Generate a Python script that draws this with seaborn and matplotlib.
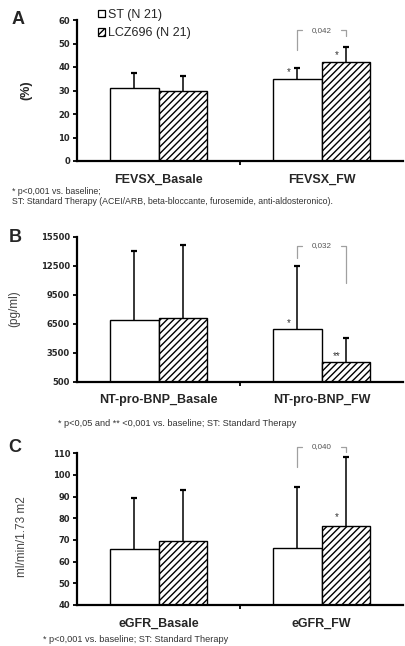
import numpy as np
import pandas as pd
import matplotlib
matplotlib.use("Agg")
import matplotlib.pyplot as plt
import seaborn as sns
from matplotlib.patches import Patch

sns.set_theme(style="white")
plt.rcParams["font.family"] = ["Liberation Sans", "DejaVu Sans"]
plt.rcParams["hatch.linewidth"] = 1.0

# ---------------- data ----------------
groups = ["ST (N 21)", "LCZ696 (N 21)"]

cats_A = ["FEVSX_Basale", "FEVSX_FW"]
st_mean_A = [31.0, 35.0]
st_sd_A = [6.5, 4.5]
lcz_mean_A = [30.0, 42.0]
lcz_sd_A = [6.0, 6.3]
yticks_A = [0, 10, 20, 30, 40, 50, 60]

cats_B = ["NT-pro-BNP_Basale", "NT-pro-BNP_FW"]
st_mean_B = [6900, 5950]
st_sd_B = [7100, 6550]
lcz_mean_B = [7100, 2500]
lcz_sd_B = [7600, 2550]
yticks_B = [500, 3500, 6500, 9500, 12500, 15500]

cats_C = ["eGFR_Basale", "eGFR_FW"]
st_mean_C = [65.8, 66.5]
st_sd_C = [23.4, 28.1]
lcz_mean_C = [69.6, 76.5]
lcz_sd_C = [23.5, 31.8]
yticks_C = [40, 50, 60, 70, 80, 90, 100, 110]

# significance annotations: p-value text, bracket top, left leg end, right leg end
pval_A, brk_A = "0,042", (55.7, 47.2, 53.2)
pval_B, brk_B = "0,032", (14600, 13300, 10700)
pval_C, brk_C = "0,040", (113.0, 103.8, 110.7)
# stars: (group index, label, y)
stars_A = [(0, "*", 37.9), (1, "*", 45.1)]
stars_B = [(0, "*", 6600), (1, "**", 3150)]
stars_C = [(1, "*", 80.6)]

foot_A = ["* p<0,001 vs. baseline;",
          "ST: Standard Therapy (ACEI/ARB, beta-bloccante, furosemide, anti-aldosteronico)."]
foot_B = "* p<0,05 and ** <0,001 vs. baseline; ST: Standard Therapy"
foot_C = "* p<0,001 vs. baseline; ST: Standard Therapy"

W, H = 405, 646
fig = plt.figure(figsize=(W / 100, H / 100), dpi=100)


def px_axes(left, top, right, bottom):
    return fig.add_axes([left / W, 1 - bottom / H, (right - left) / W, (bottom - top) / H])


def panel(ax, cats, st_mean, st_sd, lcz_mean, lcz_sd, yticks, pval, brk, stars):
    df = pd.DataFrame({
        "cat": cats + cats,
        "group": [groups[0]] * len(cats) + [groups[1]] * len(cats),
        "val": list(st_mean) + list(lcz_mean),
    })
    sns.barplot(data=df, x="cat", y="val", hue="group", order=cats, hue_order=groups,
                palette=["white", "white"], saturation=1, edgecolor="black",
                linewidth=1.0, width=0.59, errorbar=None, legend=False, ax=ax)
    centers = []
    for cont, means, sds in zip(ax.containers, [st_mean, lcz_mean], [st_sd, lcz_sd]):
        xs = [b.get_x() + b.get_width() / 2 for b in cont]
        centers.append(xs)
        eb = ax.errorbar(xs, means, yerr=[np.zeros(len(sds)), sds], fmt="none",
                         ecolor="black", elinewidth=1.1, capsize=2, capthick=1.6, zorder=5)
        caps = eb.lines[1]
        if len(caps) > 1:
            caps[0].set_visible(False)
    for b in ax.containers[1]:
        b.set_hatch("/////")
    ax.set_xlim(-0.5, 1.5)
    ax.set_ylim(yticks[0], yticks[-1])
    ax.set_yticks(yticks)
    ax.set_xlabel("")
    ax.set_ylabel("")
    sns.despine(ax=ax)
    for s in ["left", "bottom"]:
        ax.spines[s].set_linewidth(1.6)
        ax.spines[s].set_color("black")
    ax.tick_params(axis="y", direction="out", length=3, width=1.3, pad=2, left=True,
                   color="black")
    for t in ax.get_yticklabels():
        t.set_fontfamily("DejaVu Sans")
        t.set_fontweight("bold")
        t.set_fontsize(6)
    ax.set_xticks([0, 1])
    ax.set_xticklabels(cats, fontsize=9, fontweight="bold")
    ax.tick_params(axis="x", length=0, pad=9)
    ax.set_xticks([0.5], minor=True)
    ax.tick_params(axis="x", which="minor", direction="out", length=3, width=1.3,
                   bottom=True, color="black")
    # bracket
    xl, xr = centers[0][1], centers[1][1]
    top, yl, yr = brk
    stub = 0.03
    kw = dict(color="#a0a0a0", lw=0.9, clip_on=False)
    ax.plot([xl, xl, xl + stub], [yl, top, top], **kw)
    ax.plot([xr - stub, xr, xr], [top, top, yr], **kw)
    ax.text((xl + xr) / 2, top, pval, ha="center", va="center", fontsize=5.8,
            color="#555555", clip_on=False)
    for gi, lab, y in stars:
        ax.text(centers[gi][1] - 0.055, y, lab, ha="center", va="center",
                fontsize=7, color="#333333")
    return ax


axA = px_axes(77, 20, 403, 161)
panel(axA, cats_A, st_mean_A, st_sd_A, lcz_mean_A, lcz_sd_A, yticks_A, pval_A, brk_A, stars_A)
axB = px_axes(77, 237, 403, 381.7)
panel(axB, cats_B, st_mean_B, st_sd_B, lcz_mean_B, lcz_sd_B, yticks_B, pval_B, brk_B, stars_B)
axC = px_axes(77, 453.3, 403, 605)
panel(axC, cats_C, st_mean_C, st_sd_C, lcz_mean_C, lcz_sd_C, yticks_C, pval_C, brk_C, stars_C)

# legend
handles = [Patch(facecolor="white", edgecolor="black", linewidth=0.9, label=groups[0]),
           Patch(facecolor="white", edgecolor="black", linewidth=0.9, hatch="/////",
                 label=groups[1])]
fig.legend(handles=handles, loc="upper left", bbox_to_anchor=(98 / W, 1 - 9 / H),
           frameon=False, fontsize=9, handlelength=0.55, handleheight=0.55,
           handletextpad=0.25, labelspacing=0.5, borderpad=0, borderaxespad=0)


def ftext(x, y, s, **kw):
    fig.text(x / W, 1 - y / H, s, **kw)


# panel letters
ftext(18, 19, "A", fontsize=13, fontweight="bold", ha="center", va="center")
ftext(15, 237, "B", fontsize=13, fontweight="bold", ha="center", va="center")
ftext(15, 447, "C", fontsize=13, fontweight="bold", ha="center", va="center")

# y labels
ftext(26, 90, "(%)", fontsize=9, fontweight="bold", rotation=90, ha="center", va="center")
ftext(14, 309, "(pg/ml)", fontsize=8.5, color="#444444", rotation=90, ha="center", va="center")
ftext(22, 537, "ml/min/1.73 m2", fontsize=8.5, color="#444444", rotation=90,
      ha="center", va="center")

# footnotes
ftext(12, 191, foot_A[0], fontsize=6.3, color="#333333", va="center")
ftext(12, 201, foot_A[1], fontsize=6.3, color="#333333", va="center")
ftext(58, 424, foot_B, fontsize=6.6, color="#333333", va="center")
ftext(43, 639, foot_C, fontsize=6.6, color="#333333", va="center")

fig.savefig("out.png", dpi=100)
